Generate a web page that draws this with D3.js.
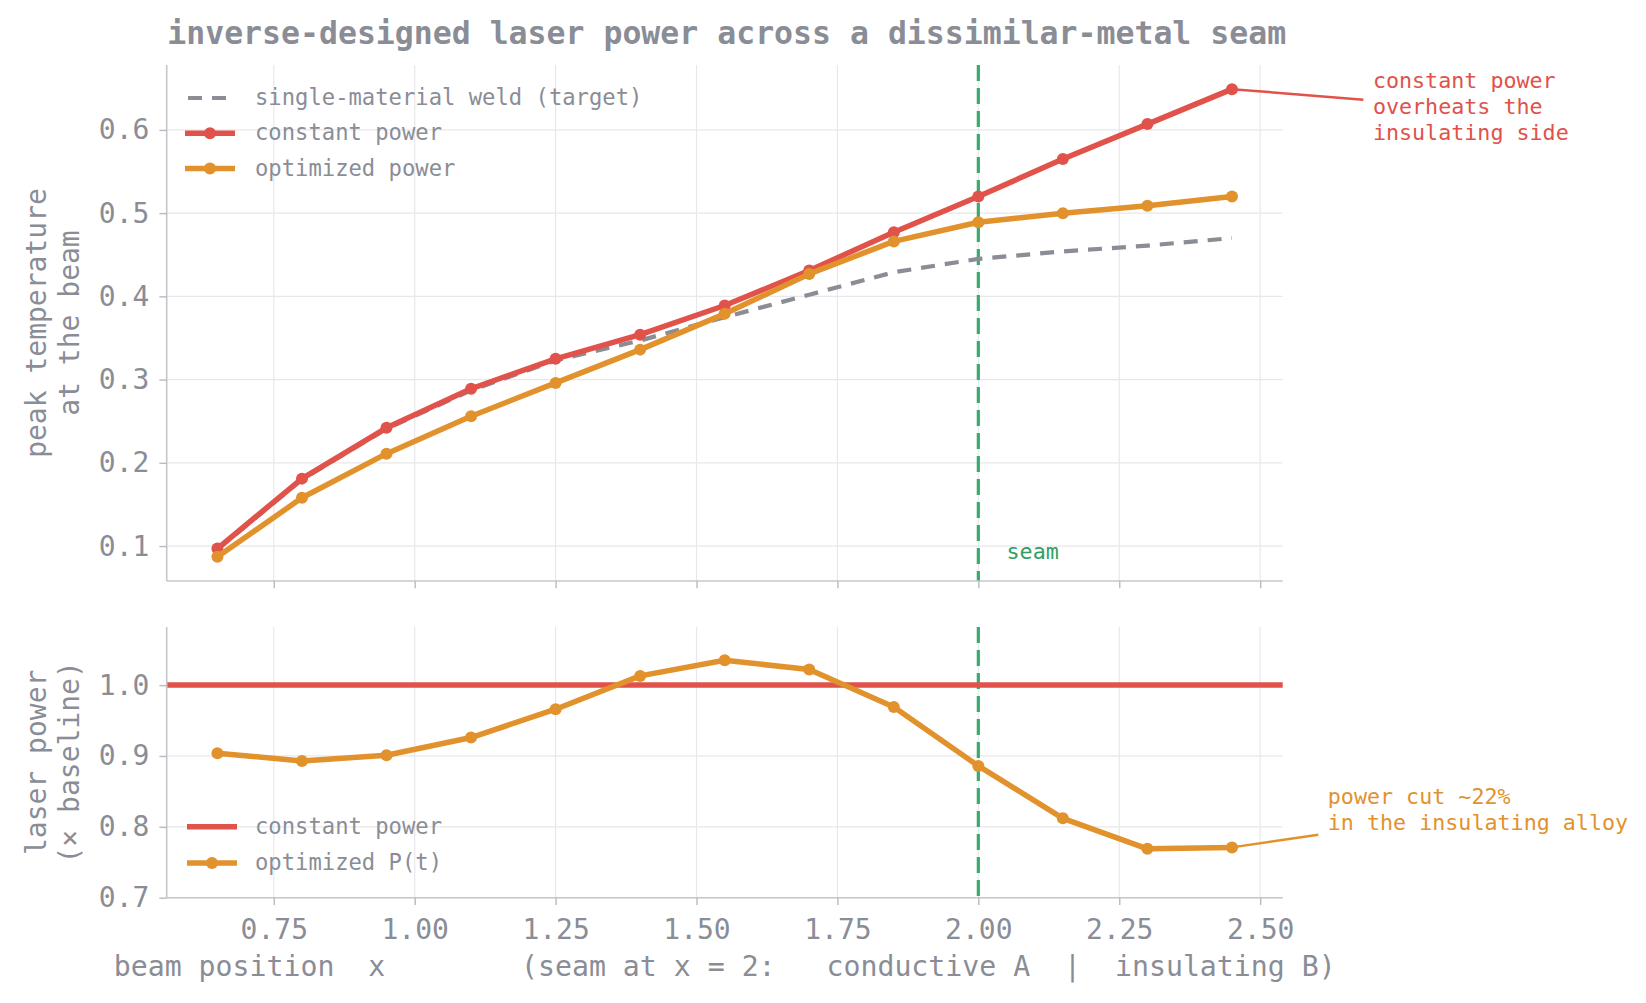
<!DOCTYPE html>
<html>
<head>
<meta charset="utf-8">
<script src="https://cdn.jsdelivr.net/npm/d3@7"></script>
<style>
  body { margin: 0; background: #fff; }
  svg { display: block; }
  text { font-family: "DejaVu Sans Mono", monospace; }
</style>
</head>
<body>
<div id="chart"></div>
<script>
// data
const beamX          = [0.65, 0.80, 0.95, 1.10, 1.25, 1.40, 1.55, 1.70, 1.85, 2.00, 2.15, 2.30, 2.45];
const targetTemp     = [0.096, 0.180, 0.241, 0.287, 0.323, 0.347, 0.375, 0.402, 0.429, 0.445, 0.454, 0.461, 0.470];
const constantTemp   = [0.097, 0.181, 0.242, 0.289, 0.325, 0.354, 0.389, 0.431, 0.477, 0.520, 0.565, 0.607, 0.649];
const optimizedTemp  = [0.087, 0.158, 0.211, 0.256, 0.296, 0.336, 0.379, 0.427, 0.466, 0.489, 0.500, 0.509, 0.520];
const optimizedPower = [0.904, 0.893, 0.901, 0.926, 0.966, 1.013, 1.035, 1.022, 0.969, 0.886, 0.812, 0.769, 0.771];
const constantPower  = 1.0;
const seamX          = 2.0;

const xTicks     = [0.75, 1.00, 1.25, 1.50, 1.75, 2.00, 2.25, 2.50];
const tempTicks  = [0.1, 0.2, 0.3, 0.4, 0.5, 0.6];
const powerTicks = [0.7, 0.8, 0.9, 1.0];

const RED = "#e0524a", ORANGE = "#e2922c", GRAY = "#8a8c96", GREEN = "#3aaa6e";
const TEXT = "#8a8d96", GRID = "#e8e8ea", SPINE = "#c6c7cd";

const W = 1646, H = 1003;
const left = 166.7, right = 1282.7;
const topP = { top: 65, bottom: 581 };
const botP = { top: 627, bottom: 897.7 };

const svg = d3.select("#chart").append("svg")
  .attr("width", W).attr("height", H);

const x  = d3.scaleLinear().domain([0.56, 2.54]).range([left, right]);
const yT = d3.scaleLinear().domain([0.058, 0.678]).range([topP.bottom, topP.top]);
const yP = d3.scaleLinear().domain([0.7, 1.082]).range([botP.bottom, botP.top]);

function grid(g, y, yTicks, p) {
  g.selectAll(".gx").data(xTicks).join("line")
    .attr("x1", d => x(d)).attr("x2", d => x(d))
    .attr("y1", p.top).attr("y2", p.bottom)
    .attr("stroke", GRID).attr("stroke-width", 1.2);
  g.selectAll(".gy").data(yTicks).join("line")
    .attr("x1", left).attr("x2", right)
    .attr("y1", d => y(d)).attr("y2", d => y(d))
    .attr("stroke", GRID).attr("stroke-width", 1.2);
}

function styleAxis(g) {
  g.select("path.domain").attr("stroke", SPINE).attr("stroke-width", 1.6);
  g.selectAll(".tick line").attr("stroke", "#b8bac1").attr("stroke-width", 1.4);
  g.selectAll(".tick text")
    .attr("fill", TEXT)
    .style("font-size", "28px")
    .style("font-family", "'DejaVu Sans Mono', monospace");
}

function yAxis(y, ticks, p) {
  const g = svg.append("g")
    .attr("transform", `translate(${left},0)`)
    .call(d3.axisLeft(y).tickValues(ticks).tickFormat(d3.format(".1f"))
      .tickSize(7.3).tickSizeOuter(0).tickPadding(10));
  g.select("path.domain").attr("d", `M0,${p.top}V${p.bottom}`);
  styleAxis(g);
}

function xAxis(p, labels) {
  const g = svg.append("g")
    .attr("transform", `translate(0,${p.bottom})`)
    .call(d3.axisBottom(x).tickValues(xTicks)
      .tickFormat(labels ? d3.format(".2f") : "")
      .tickSize(7.3).tickSizeOuter(0).tickPadding(14));
  g.select("path.domain").attr("d", `M${left},0H${right}`);
  styleAxis(g);
}

function seam(p) {
  svg.append("line")
    .attr("x1", x(seamX)).attr("x2", x(seamX))
    .attr("y1", p.top).attr("y2", p.bottom)
    .attr("stroke", GREEN).attr("stroke-width", 3.2)
    .attr("stroke-dasharray", "16 7");
}

function series(vals, y, color, opts) {
  const line = d3.line().x((d, i) => x(beamX[i])).y(d => y(d));
  svg.append("path").datum(vals)
    .attr("fill", "none").attr("stroke", color)
    .attr("stroke-width", opts.width)
    .attr("stroke-dasharray", opts.dash || null)
    .attr("stroke-linejoin", "round")
    .attr("d", line);
  if (opts.markers) {
    svg.append("g").selectAll("circle").data(vals).join("circle")
      .attr("cx", (d, i) => x(beamX[i])).attr("cy", d => y(d))
      .attr("r", 6).attr("fill", color);
  }
}

function legend(items, x0, y0, step, textX) {
  items.forEach((it, i) => {
    const cy = y0 + i * step;
    svg.append("line")
      .attr("x1", x0).attr("x2", x0 + 50).attr("y1", cy).attr("y2", cy)
      .attr("stroke", it.color).attr("stroke-width", it.width)
      .attr("stroke-dasharray", it.dash || null)
      .attr("stroke-dashoffset", it.dash ? 21 : null);
    if (it.marker) {
      svg.append("circle").attr("cx", x0 + 25).attr("cy", cy).attr("r", 6).attr("fill", it.color);
    }
    svg.append("text")
      .attr("x", textX).attr("y", cy).attr("dy", "0.32em")
      .attr("fill", TEXT).style("font-size", "22.2px")
      .text(it.label);
  });
}

function annotate(lines, tx, ty, px, py, color) {
  const fs = 21.7, lh = 26;
  const g = svg.append("g");
  const n = lines.length;
  lines.forEach((t, i) => {
    g.append("text")
      .attr("x", tx).attr("y", ty + (i - (n - 1) / 2) * lh)
      .attr("dy", "0.28em")
      .attr("fill", color).style("font-size", fs + "px")
      .text(t);
  });
  const w = d3.max(lines, t => t.length) * 0.602 * fs;
  const h = n * lh, pad = 9.5;
  const cx = tx + w / 2, cy = ty;
  // clip the connector at the padded text box
  const dx = px - cx, dy = py - cy;
  const tX = dx !== 0 ? (w / 2 + pad) / Math.abs(dx) : Infinity;
  const tY = dy !== 0 ? (h / 2 + pad) / Math.abs(dy) : Infinity;
  const t = Math.min(tX, tY);
  svg.append("line")
    .attr("x1", cx + dx * t).attr("y1", cy + dy * t)
    .attr("x2", px).attr("y2", py)
    .attr("stroke", color).attr("stroke-width", 2.5);
}

// ---- top panel
grid(svg.append("g"), yT, tempTicks, topP);
seam(topP);
series(targetTemp, yT, GRAY, { width: 4.2, dash: "14 10" });
series(constantTemp, yT, RED, { width: 5.5, markers: true });
series(optimizedTemp, yT, ORANGE, { width: 5.5, markers: true });
yAxis(yT, tempTicks, topP);
xAxis(topP, false);

svg.append("text")
  .attr("x", x(2.05)).attr("y", yT(0.085))
  .attr("fill", "#2fa062").style("font-size", "21.7px")
  .text("seam");

legend([
  { label: "single-material weld (target)", color: GRAY, width: 4.2, dash: "14 10" },
  { label: "constant power", color: RED, width: 5.5, marker: true },
  { label: "optimized power", color: ORANGE, width: 5.5, marker: true }
], 185, 98, 35.2, 255);

annotate(["constant power", "overheats the", "insulating side"],
  x(2.70), yT(0.626), x(beamX[12]), yT(constantTemp[12]), RED);

// ---- bottom panel
grid(svg.append("g"), yP, powerTicks, botP);
seam(botP);
svg.append("line")
  .attr("x1", left).attr("x2", right)
  .attr("y1", yP(constantPower)).attr("y2", yP(constantPower))
  .attr("stroke", RED).attr("stroke-width", 5.5);
series(optimizedPower, yP, ORANGE, { width: 5.5, markers: true });
yAxis(yP, powerTicks, botP);
xAxis(botP, true);

legend([
  { label: "constant power", color: RED, width: 5.5 },
  { label: "optimized P(t)", color: ORANGE, width: 5.5, marker: true }
], 187, 826.7, 36.3, 255);

annotate(["power cut ~22%", "in the insulating alloy"],
  x(2.62), yP(0.822), x(beamX[12]), yP(optimizedPower[12]), ORANGE);

// ---- labels
function yLabel(lines, cy) {
  lines.forEach((t, i) => {
    svg.append("text")
      .attr("transform", `translate(${46 + i * 33},${cy}) rotate(-90)`)
      .attr("text-anchor", "middle")
      .attr("fill", TEXT).style("font-size", "28px")
      .text(t);
  });
}
yLabel(["peak temperature", "at the beam"], (topP.top + topP.bottom) / 2);
yLabel(["laser power", "(\u00d7 baseline)"], (botP.top + botP.bottom) / 2);

svg.append("text")
  .attr("x", (left + right) / 2).attr("y", 976)
  .attr("text-anchor", "middle")
  .attr("fill", TEXT).style("font-size", "28.2px")
  .attr("xml:space", "preserve").style("white-space", "pre")
  .text("beam position  x        (seam at x = 2:   conductive A  |  insulating B)");

svg.append("text")
  .attr("x", (left + right) / 2 + 2).attr("y", 44)
  .attr("text-anchor", "middle")
  .attr("fill", TEXT).style("font-size", "31.5px").style("font-weight", "bold")
  .text("inverse-designed laser power across a dissimilar-metal seam");
</script>
</body>
</html>
